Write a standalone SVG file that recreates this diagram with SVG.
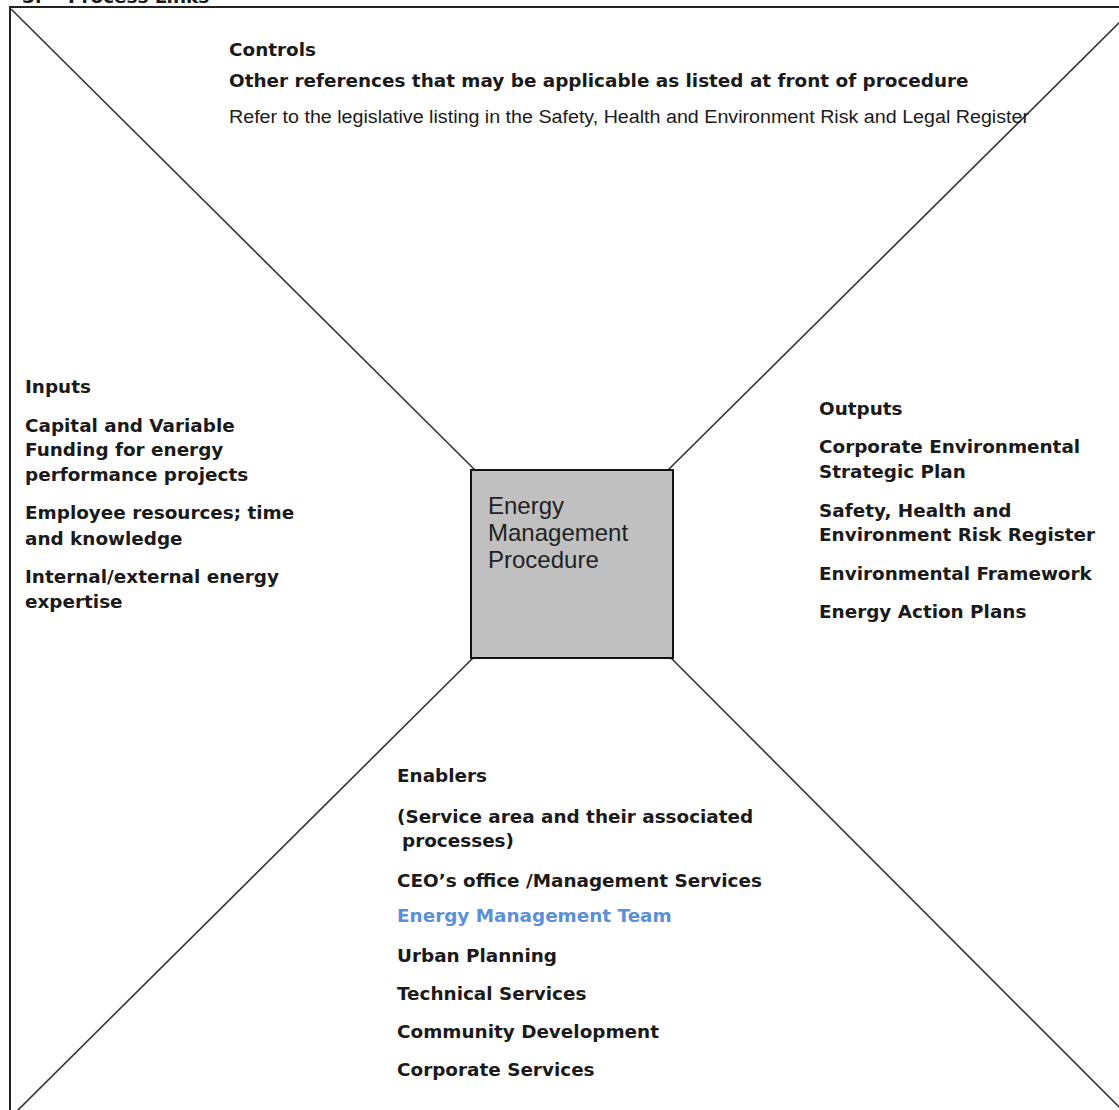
<svg xmlns="http://www.w3.org/2000/svg" width="1119" height="1110" viewBox="0 0 1119 1110">
<style>
.frame{fill:none;stroke:#222;stroke-width:2}
.diag{stroke:#333;stroke-width:1.6;fill:none}
.b{font-family:"DejaVu Sans",Verdana,sans-serif;font-weight:bold;font-size:18.4px;fill:#1a1a1a}
.r{font-family:"Liberation Sans",Arial,sans-serif;font-size:18px;fill:#1a1a1a}
.box{fill:#c0c0c0;stroke:#111;stroke-width:2}
.boxt{font-family:"Liberation Sans",Arial,sans-serif;font-size:24px;fill:#222}
.blue{fill:#5b8fd8}
</style>
<rect width="1119" height="1110" fill="#ffffff"/>
<g id="heading">
<text class="b" x="22" y="3">3.</text>
<text class="b" x="68" y="3">Process Links</text>
</g>
<rect class="frame" x="10" y="7" width="1130" height="1120"/>
<g id="connectors">
<line class="diag" x1="11" y1="9" x2="476" y2="471"/>
<line class="diag" x1="1124" y1="18" x2="667" y2="471"/>
<line class="diag" x1="473" y1="658" x2="16" y2="1112"/>
<line class="diag" x1="671" y1="658" x2="1124" y2="1112"/>
</g>
<g id="procedure">
<rect class="box" x="471" y="470" width="202" height="188"/>
<text class="boxt" x="488" y="514">Energy</text>
<text class="boxt" x="488" y="541">Management</text>
<text class="boxt" x="488" y="568">Procedure</text>
</g>
<g id="controls">
<text class="b" x="229" y="56">Controls</text>
<text class="b" x="229" y="87">Other references that may be applicable as listed at front of procedure</text>
<text class="r" x="229" y="123" textLength="800" lengthAdjust="spacingAndGlyphs">Refer to the legislative listing in the Safety, Health and Environment Risk and Legal Register</text>
</g>
<g id="inputs">
<text class="b" x="25" y="393">Inputs</text>
<text class="b" x="25" y="432">Capital and Variable</text>
<text class="b" x="25" y="456">Funding for energy</text>
<text class="b" x="25" y="481">performance projects</text>
<text class="b" x="25" y="519">Employee resources; time</text>
<text class="b" x="25" y="545">and knowledge</text>
<text class="b" x="25" y="583">Internal/external energy</text>
<text class="b" x="25" y="608">expertise</text>
</g>
<g id="outputs">
<text class="b" x="819" y="415">Outputs</text>
<text class="b" x="819" y="453">Corporate Environmental</text>
<text class="b" x="819" y="478">Strategic Plan</text>
<text class="b" x="819" y="517">Safety, Health and</text>
<text class="b" x="819" y="541">Environment Risk Register</text>
<text class="b" x="819" y="580">Environmental Framework</text>
<text class="b" x="819" y="618">Energy Action Plans</text>
</g>
<g id="enablers">
<text class="b" x="397" y="782">Enablers</text>
<text class="b" x="397" y="823">(Service area and their associated</text>
<text class="b" x="402" y="847">processes)</text>
<text class="b" x="397" y="887">CEO’s office /Management Services</text>
<text class="b blue" x="397" y="922">Energy Management Team</text>
<text class="b" x="397" y="962">Urban Planning</text>
<text class="b" x="397" y="1000">Technical Services</text>
<text class="b" x="397" y="1038">Community Development</text>
<text class="b" x="397" y="1076">Corporate Services</text>
</g>
</svg>
